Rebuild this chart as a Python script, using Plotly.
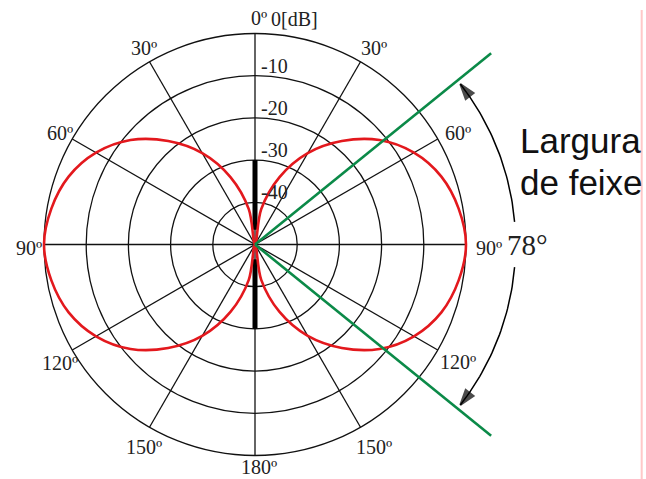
import numpy as np
import plotly.graph_objects as go

# ---- data -------------------------------------------------------------
# Normalised field pattern of a half-wave dipole (vertical element)
pattern_angle = [0, 10, 20, 30, 40, 50, 60, 70, 80, 90, 100, 110, 120, 130,
                 140, 150, 160, 170, 180, 190, 200, 210, 220, 230, 240, 250,
                 260, 270, 280, 290, 300, 310, 320, 330, 340, 350, 360]
pattern_level = [0.00, 0.17, 0.34, 0.50, 0.64, 0.77, 0.87, 0.94, 0.98, 1.00,
                 0.98, 0.94, 0.87, 0.77, 0.64, 0.50, 0.34, 0.17, 0.00,
                 0.17, 0.34, 0.50, 0.64, 0.77, 0.87, 0.94, 0.98, 1.00,
                 0.98, 0.94, 0.87, 0.77, 0.64, 0.50, 0.34, 0.17, 0.00]

ring_levels = [0.2, 0.4, 0.6, 0.8, 1.0]
ring_labels = ["-40", "-30", "-20", "-10", "0[dB]"]

spoke_angles = [0, 30, 60, 90, 120, 150]
angle_ticks = [0, 30, 60, 90, 120, 150, 180, 210, 240, 270, 300, 330]
angle_tick_text = ["0º", "30º", "60º", "90º", "120º", "150º", "180º",
                   "150º", "120º", "90º", "60º", "30º"]

dipole_span = [0.07, 0.40]          # radial extent of each dipole arm

beam_center = 90                    # direction of maximum radiation (deg)
beamwidth = 78                      # half-power beamwidth (deg)

# ---- geometry / style -------------------------------------------------
W, H = 646, 479
CX, CY, R = 255, 244.5, 211         # pixel centre and outer radius
SERIF = "Liberation Serif"
SANS = "Liberation Sans"
RED = "#e3181d"
GREEN = "#0b8a48"


def pol2xy(r, th_deg):
    th = np.radians(th_deg)
    return np.asarray(r) * np.sin(th), np.asarray(r) * np.cos(th)


fig = go.Figure()

# spokes (full diameters)
sx, sy = [], []
for a in spoke_angles:
    x, y = pol2xy(np.array([-1.0, 1.0]), a)
    sx += list(x) + [None]
    sy += list(y) + [None]
fig.add_trace(go.Scatter(x=sx, y=sy, mode="lines",
                         line=dict(color="#111111", width=1.3),
                         hoverinfo="skip"))

# rings
for lev in ring_levels:
    fig.add_shape(type="circle", xref="x", yref="y",
                  x0=-lev, x1=lev, y0=-lev, y1=lev,
                  line=dict(color="#111111", width=1.3), layer="below")

# dipole element
for a in (0, 180):
    x, y = pol2xy(np.array(dipole_span), a)
    fig.add_trace(go.Scatter(x=x, y=y, mode="lines",
                             line=dict(color="black", width=5),
                             hoverinfo="skip"))

# radiation pattern
px, py = pol2xy(np.array(pattern_level), np.array(pattern_angle))
fig.add_trace(go.Scatter(x=px, y=py, mode="lines",
                         line=dict(color=RED, width=2.6, shape="spline",
                                   smoothing=1.0),
                         hoverinfo="skip"))

# beamwidth edges
edge_r = 1.44
for a in (beam_center - beamwidth / 2, beam_center + beamwidth / 2):
    x, y = pol2xy(np.array([0.0, edge_r]), a)
    fig.add_trace(go.Scatter(x=x, y=y, mode="lines",
                             line=dict(color=GREEN, width=2.6),
                             hoverinfo="skip"))

# curved dimension arrows, split around the beamwidth value
arc_r = 1.235
gap = 5
for start, end in ((beam_center - gap, beam_center - beamwidth / 2 + 1.0),
                   (beam_center + gap, beam_center + beamwidth / 2 - 1.0)):
    th = np.linspace(start, end, 40)
    x, y = pol2xy(arc_r, th)
    sizes = [0] * (len(th) - 1) + [16]
    fig.add_trace(go.Scatter(x=x, y=y, mode="lines+markers",
                             line=dict(color="black", width=1.5),
                             marker=dict(symbol="arrow",
                                         angleref="previous",
                                         size=sizes, color="black",
                                         line=dict(width=2, color="black")),
                             hoverinfo="skip"))

annotations = []

# angle labels
label_r = {a: 1.09 for a in angle_ticks}
label_r[180] = 1.04
for a, t in zip(angle_ticks, angle_tick_text):
    x, y = pol2xy(label_r[a], a)
    annotations.append(dict(x=float(x), y=float(y), text=t, showarrow=False,
                            xanchor="center", yanchor="middle",
                            xshift=4, yshift=-3,
                            font=dict(family=SERIF, size=20, color="#222222")))

# level labels along the vertical spoke
for lev, t in zip(ring_levels, ring_labels):
    last = t.endswith("[dB]")
    annotations.append(dict(x=0, y=lev, text=t, showarrow=False,
                            xanchor="left", yanchor="bottom",
                            xshift=14 if last else 4,
                            yshift=2 if last else -3,
                            font=dict(family=SERIF, size=20, color="#222222")))

# beamwidth value
bx, by = pol2xy(1.29, beam_center)
annotations.append(dict(x=float(bx), y=float(by), text=f"{beamwidth}°",
                        showarrow=False, xanchor="center", yanchor="middle",
                        font=dict(family=SERIF, size=29, color="#222222")))

# caption
for txt, yy in (("Largura", 0.495), ("de feixe", 0.296)):
    annotations.append(dict(x=1.248, y=yy, text=txt, showarrow=False,
                            xanchor="left", yanchor="middle",
                            font=dict(family=SANS, size=35, color="#111111")))

fig.update_layout(
    width=W, height=H,
    margin=dict(l=0, r=0, t=0, b=0),
    paper_bgcolor="white", plot_bgcolor="white",
    showlegend=False,
    annotations=annotations,
    shapes=list(fig.layout.shapes) + [
        dict(type="line", xref="paper", yref="paper",
             x0=641.7 / W, x1=641.7 / W, y0=0, y1=1 - 10 / H,
             line=dict(color="#ffc8c8", width=2))
    ],
)
fig.update_xaxes(range=[-CX / R, (W - CX) / R], visible=False,
                 autorange=False, fixedrange=True)
fig.update_yaxes(range=[-(H - CY) / R, CY / R], visible=False,
                 autorange=False, fixedrange=True)

fig.write_html("out.html")
